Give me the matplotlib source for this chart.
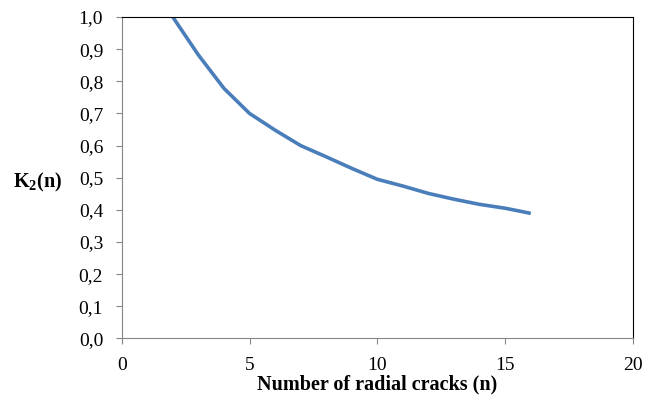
import matplotlib.pyplot as plt
from matplotlib.ticker import FuncFormatter

# values
n = [2, 3, 4, 5, 6, 7, 8, 9, 10, 11, 12, 13, 14, 15, 16]
k2 = [1.0, 0.882, 0.778, 0.70, 0.648, 0.60, 0.565, 0.529, 0.495, 0.474,
      0.451, 0.433, 0.417, 0.405, 0.389]

plt.rcParams['font.family'] = ['Liberation Serif', 'DejaVu Serif']
plt.rcParams['mathtext.fontset'] = 'custom'
plt.rcParams['mathtext.rm'] = 'Liberation Serif'
plt.rcParams['mathtext.bf'] = 'Liberation Serif:bold'

fig = plt.figure(figsize=(6.54, 4.0), dpi=100)
ax = fig.add_axes([0.186, 0.154, 0.782, 0.8035])
ax.plot(n, k2, color='#4A7EBB', linewidth=2.6, solid_capstyle='butt',
        solid_joinstyle='round')

ax.set_xlim(0, 20)
ax.set_ylim(0, 1.0)
ax.set_xticks([0, 5, 10, 15, 20])
ax.set_yticks([i / 10 for i in range(11)])
ax.yaxis.set_major_formatter(FuncFormatter(lambda v, p: f'{v:.1f}'.replace('.', ',')))
ax.tick_params(direction='out', length=4.3, width=0.8, color='#868686', labelsize=14)
ax.tick_params(axis='y', pad=9)
ax.tick_params(axis='x', pad=9)

for side in ['left', 'bottom']:
    ax.spines[side].set_color('#868686')
for side in ['top', 'right']:
    ax.spines[side].set_color('black')
    ax.spines[side].set_linewidth(0.8)

fig.text(0.577, 0.026, 'Number of radial cracks (n)', ha='center', va='baseline',
         fontsize=14.5, fontweight='bold')
fig.text(0.057, 0.545, 'K$_\\mathbf{2}$(n)', ha='center', va='center', fontsize=14.5, fontweight='bold')

fig.savefig('out.png', dpi=100)
